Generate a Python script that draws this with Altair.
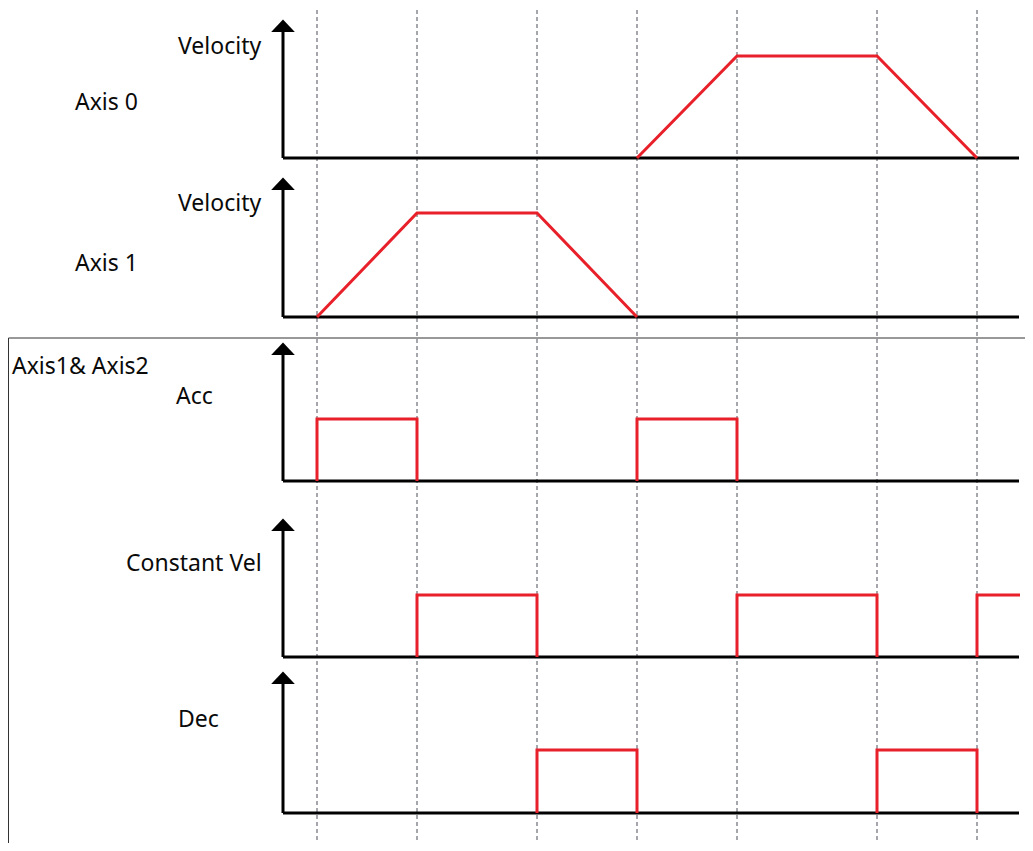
import altair as alt
import pandas as pd

# ---------------- data ----------------
# event times (arbitrary time units) where the phases change
event_times = [0, 10, 22, 32, 42, 56, 66]

# velocity profiles (time, normalised velocity)
axis0_t = [32, 42, 56, 66]
axis0_v = [0, 1, 1, 0]
axis1_t = [0, 10, 22, 32]
axis1_v = [0, 1, 1, 0]

# phase flags as pulses (start, end)
acc_pulses = [(0, 10), (32, 42)]
const_pulses = [(10, 22), (42, 56), (66, 70.3)]
dec_pulses = [(22, 32), (56, 66)]

row_names = ["Axis 0", "Axis 1", "Acc", "Constant Vel", "Dec"]

# ---------------- layout (in drawing units) ----------------
W, H = 1017, 835
X_DOMAIN = [-30.9, 70.8]
AXIS_X0, AXIS_X1 = -3.4, 70.2
row_base = {"Axis 0": 150, "Axis 1": 309, "Acc": 473, "Constant Vel": 649, "Dec": 805}
row_amp = {"Axis 0": 102, "Axis 1": 104, "Acc": 62, "Constant Vel": 62, "Dec": 63}
row_tip = {"Axis 0": 12, "Axis 1": 170, "Acc": 335, "Constant Vel": 511, "Dec": 664}
RED = "#e8202a"

xs = alt.Scale(domain=X_DOMAIN, nice=False, zero=False)
ys = alt.Scale(domain=[0, H], nice=False, zero=False, reverse=True)

# signal line table
sig_rows = []
def add_series(row, seg, ts, vs):
    for i, (t, v) in enumerate(zip(ts, vs)):
        sig_rows.append({"row": row, "seg": f"{row}-{seg}", "i": i, "t": t,
                         "y": row_base[row] - v * row_amp[row]})

add_series("Axis 0", 0, axis0_t, axis0_v)
add_series("Axis 1", 0, axis1_t, axis1_v)
for name, pulses in [("Acc", acc_pulses), ("Constant Vel", const_pulses), ("Dec", dec_pulses)]:
    for k, (a, b) in enumerate(pulses):
        if b >= 70:
            add_series(name, k, [a, a, b], [0, 1, 1])
        else:
            add_series(name, k, [a, a, b, b], [0, 1, 1, 0])
sig = pd.DataFrame(sig_rows)

axes_df = pd.DataFrame({
    "row": row_names,
    "base": [row_base[r] for r in row_names],
    "tip": [row_tip[r] for r in row_names],
})
axes_df["x0"] = AXIS_X0
axes_df["x1"] = AXIS_X1
axes_df["arrow_base"] = axes_df["tip"] + 11
axes_df["arrow_c"] = axes_df["tip"] + 6

events_df = pd.DataFrame({"t": event_times})

# dashed event lines
dashed = alt.Chart(events_df).mark_rule(
    color="#4a4f5a", strokeWidth=1, strokeDash=[4, 3]
).encode(
    x=alt.X("t:Q", scale=xs, axis=None),
    y=alt.value(2),
    y2=alt.value(H),
)

# horizontal axis lines
h_axes = alt.Chart(axes_df).mark_rule(color="black", strokeWidth=3).encode(
    x=alt.X("x0:Q", scale=xs, axis=None),
    x2="x1:Q",
    y=alt.Y("base:Q", scale=ys, axis=None),
)
v_axes = alt.Chart(axes_df).mark_rule(color="black", strokeWidth=3).encode(
    x=alt.X("x0:Q", scale=xs, axis=None),
    y=alt.Y("arrow_base:Q", scale=ys, axis=None),
    y2="base:Q",
)
arrows = alt.Chart(axes_df).mark_point(
    shape="M-1,0.5L0,-0.55L1,0.5Z", filled=True, color="black", opacity=1, size=560
).encode(
    x=alt.X("x0:Q", scale=xs, axis=None),
    y=alt.Y("arrow_c:Q", scale=ys, axis=None),
)

signals = alt.Chart(sig).mark_line(
    color=RED, strokeWidth=3, strokeJoin="miter"
).encode(
    x=alt.X("t:Q", scale=xs, axis=None),
    y=alt.Y("y:Q", scale=ys, axis=None),
    detail="seg:N",
    order="i:Q",
)

# frame around the Axis1 & Axis2 group
frame_df = pd.DataFrame({"x0": [X_DOMAIN[0] + 0.05], "x1": [X_DOMAIN[1]], "y0": [330], "y1": [H]})
frame_top = alt.Chart(frame_df).mark_rule(color="#333333", strokeWidth=1).encode(
    x=alt.X("x0:Q", scale=xs, axis=None), x2="x1:Q",
    y=alt.Y("y0:Q", scale=ys, axis=None),
)
frame_left = alt.Chart(frame_df).mark_rule(color="#333333", strokeWidth=1).encode(
    x=alt.X("x0:Q", scale=xs, axis=None),
    y=alt.Y("y0:Q", scale=ys, axis=None), y2="y1:Q",
)

# text labels
labels = [
    ("Velocity", 170, 39),
    ("Axis 0", 67, 95),
    ("Velocity", 170, 196),
    ("Axis 1", 67, 256),
    ("Axis1& Axis2", 4, 359),
    ("Acc", 168, 389),
    ("Constant Vel", 118, 556),
    ("Dec", 170, 712),
]
text_layers = []
for txt, px, py in labels:
    text_layers.append(
        alt.Chart(pd.DataFrame({"label": [txt]})).mark_text(
            align="left", baseline="middle", font="Noto Sans", fontSize=23, color="#0a0a0a"
        ).encode(text="label:N", x=alt.value(px), y=alt.value(py))
    )

chart = alt.layer(
    frame_top, frame_left, dashed, h_axes, v_axes, arrows, signals, *text_layers
).properties(
    width=W, height=H, padding=0,
    autosize=alt.AutoSizeParams(type="none"),
).configure_view(stroke=None)

chart.save("out.html", embed_options={"renderer": "svg", "actions": False})
